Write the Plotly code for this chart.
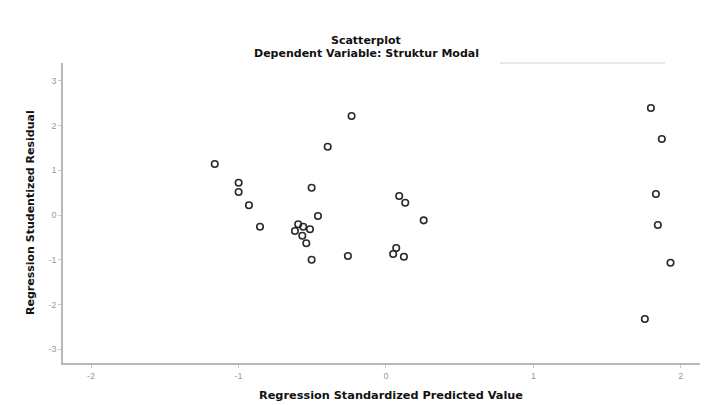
import plotly.graph_objects as go

# Data
predicted = [-0.233, -0.395, -1.161, -0.999, -0.999, -0.504, -0.929, 0.090, 0.131,
             -0.461, 0.256, -0.854, -0.595, -0.561, -0.515, -0.617, -0.567, -0.540,
             -0.504, -0.258, 0.070, 0.049, 0.122,
             1.797, 1.871, 1.831, 1.844, 1.930, 1.756]
residual = [2.215, 1.528, 1.141, 0.723, 0.515, 0.611, 0.217, 0.425, 0.275,
            -0.022, -0.119, -0.262, -0.208, -0.262, -0.320, -0.358, -0.463, -0.633,
            -1.000, -0.917, -0.738, -0.872, -0.933,
            2.394, 1.700, 0.470, -0.224, -1.067, -2.327]
x_ticks = [-2, -1, 0, 1, 2]
y_ticks = [-3, -2, -1, 0, 1, 2, 3]

title_text = "Scatterplot"
subtitle_text = "Dependent Variable: Struktur Modal"
x_title = "Regression Standardized Predicted Value"
y_title = "Regression Studentized Residual"

title_font = "DejaVu Sans, Arial, sans-serif"
tick_font = "Liberation Sans, Arial, sans-serif"

# The page body has an 8px margin, so the figure is 8px smaller than the window.
fig = go.Figure()
fig.add_trace(go.Scatter(
    x=predicted, y=residual, mode="markers",
    marker=dict(symbol="circle-open", size=6.5, color="#2a2a2a",
                line=dict(width=1.6, color="#2a2a2a")),
    hoverinfo="x+y", showlegend=False,
))

fig.update_layout(
    width=704, height=397,
    margin=dict(l=55, r=12, t=55, b=42),
    paper_bgcolor="white", plot_bgcolor="white",
    font=dict(family=title_font, color="#111"),
    xaxis=dict(range=[-2.19, 2.13], tickvals=x_ticks, ticktext=[str(v) for v in x_ticks],
               showgrid=False, zeroline=False, showline=True, linecolor="#b8b8b8",
               linewidth=1.5, ticks="outside", ticklen=3, tickcolor="#c8c8c8",
               tickfont=dict(size=9, color="#9a9a9a", family=tick_font)),
    yaxis=dict(range=[-3.31, 3.40], tickvals=y_ticks, ticktext=[str(v) for v in y_ticks],
               showgrid=False, zeroline=False, showline=True, linecolor="#b8b8b8",
               linewidth=1.5, ticks="outside", ticklen=3, tickcolor="#c8c8c8",
               tickfont=dict(size=9, color="#9a9a9a", family=tick_font)),
    annotations=[
        dict(text="<b>" + title_text + "</b>", xref="paper", yref="paper",
             x=(366 - 63) / 637, y=(363 - 40) / 300, showarrow=False,
             xanchor="center", yanchor="middle",
             font=dict(size=11, color="#111", family=title_font)),
        dict(text="<b>" + subtitle_text + "</b>", xref="paper", yref="paper",
             x=(366 - 63) / 637, y=(363 - 53.5) / 300, showarrow=False,
             xanchor="center", yanchor="middle",
             font=dict(size=11, color="#111", family=title_font)),
        dict(text="<b>" + x_title + "</b>", xref="paper", yref="paper",
             x=(391 - 63) / 637, y=(363 - 395) / 300, showarrow=False,
             xanchor="center", yanchor="middle",
             font=dict(size=11.3, color="#111", family=title_font)),
        dict(text="<b>" + y_title + "</b>", xref="paper", yref="paper",
             x=(30 - 63) / 637, y=(363 - 213) / 300, showarrow=False,
             textangle=-90, xanchor="center", yanchor="middle",
             font=dict(size=11, color="#111", family=title_font)),
    ],
    shapes=[
        dict(type="line", xref="paper", yref="paper",
             x0=(500 - 63) / 637, x1=(665 - 63) / 637, y0=1.0, y1=1.0,
             line=dict(color="#d0d0d0", width=1)),
    ],
)

fig.write_html("out.html")
